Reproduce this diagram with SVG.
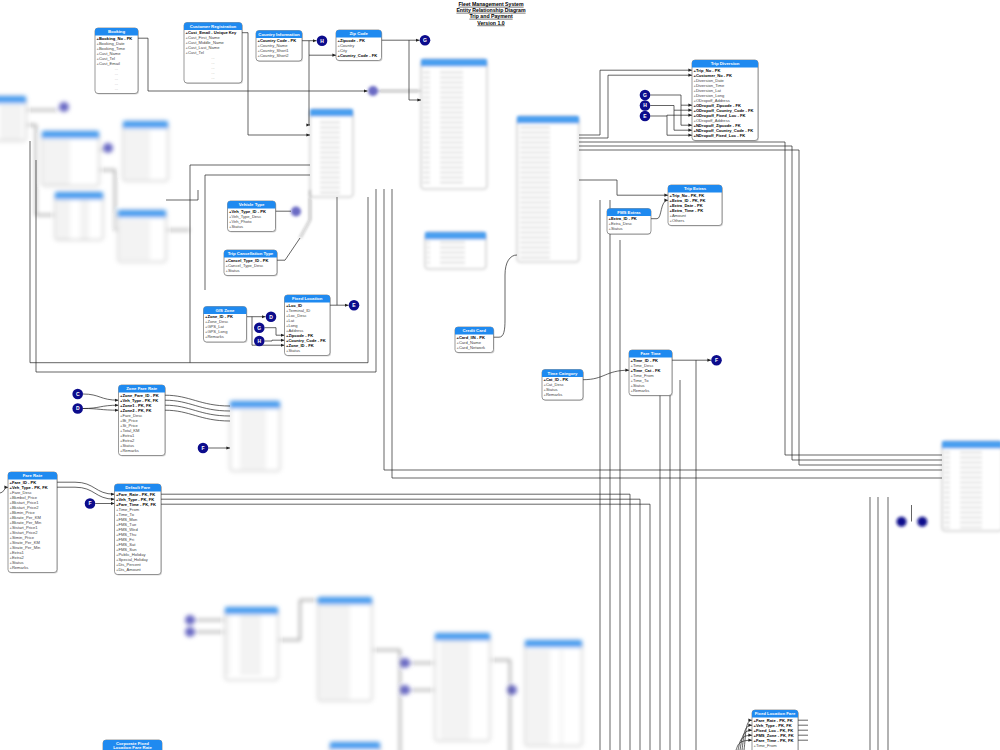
<svg xmlns="http://www.w3.org/2000/svg" width="1000" height="750" viewBox="0 0 1000 750">
<defs>
<style>
.bx{fill:#fff;stroke:#555;stroke-width:.6}
.bxb{fill:#fff;stroke:#999;stroke-width:.8}
.sh{fill:#000;opacity:.15}
.hd{fill:#1f8af0}
.hdb{fill:#4a9ff0}
.ht{font-family:"Liberation Sans",Arial,sans-serif;font-size:4.3px;font-weight:bold;fill:#fff;text-anchor:middle}
.r{font-family:"Liberation Sans",Arial,sans-serif;font-size:4.1px;fill:#444}
.b{font-weight:bold;fill:#000}
.dt{font-family:"Liberation Sans",Arial,sans-serif;font-size:4.1px;fill:#777;text-anchor:middle}
.ln{fill:none;stroke:#222;stroke-width:.7}
.ar{marker-end:url(#a)}
.cc{fill:#0c0c8c}
.cl{font-family:"Liberation Sans",Arial,sans-serif;font-size:5px;font-weight:bold;fill:#fff;text-anchor:middle}
.tt{font-family:"Liberation Sans",Arial,sans-serif;font-size:5.2px;font-weight:bold;fill:#000;text-anchor:middle;text-decoration:underline}
.blr{filter:url(#bl)}
.blr2{filter:url(#bl2)}
.bc{fill:#6a6ac4}
</style>
<marker id="a" markerWidth="4" markerHeight="4" refX="3.6" refY="2" orient="auto" markerUnits="userSpaceOnUse"><path d="M0,0.4 L3.6,2 L0,3.6z" fill="#222"/></marker>
<filter id="bl" x="-30%" y="-30%" width="160%" height="160%"><feGaussianBlur stdDeviation="2.3"/></filter>
<filter id="bl2" x="-30%" y="-30%" width="160%" height="160%"><feGaussianBlur stdDeviation="1.4"/></filter>
<pattern id="rows" width="40" height="5" patternUnits="userSpaceOnUse"><rect x="0" y="1.8" width="30" height="1.4" fill="#cfcfcf"/></pattern>
</defs>
<rect width="1000" height="750" fill="#fff"/>

<g id="title">
<text class="tt" x="491" y="5.8">Fleet Management System</text>
<text class="tt" x="491" y="11.8">Entity Relationship Diagram</text>
<text class="tt" x="491" y="17.8">Trip and Payment</text>
<text class="tt" x="491" y="24.6">Version 1.0</text>
</g>

<!-- blurred tables -->
<g id="blurred" class="blr">
<g><rect class="bxb" x="-10" y="96" width="36" height="45" rx="3"/><rect class="hdb" x="-10" y="96" width="36" height="7.5"/><rect x="-8" y="105" width="30" height="34" fill="url(#rows)"/></g>
<g><rect class="bxb" x="42" y="131" width="57" height="55" rx="3"/><rect class="hdb" x="42" y="131" width="57" height="7.5"/><rect x="44" y="140" width="36" height="44" fill="url(#rows)"/></g>
<g><rect class="bxb" x="123" y="121" width="45" height="60" rx="3"/><rect class="hdb" x="123" y="121" width="45" height="7.5"/><rect x="125" y="130" width="30" height="48" fill="url(#rows)"/></g>
<g><rect class="bxb" x="55" y="192" width="48" height="48" rx="3"/><rect class="hdb" x="55" y="192" width="48" height="7.5"/><rect x="57" y="201" width="32" height="37" fill="url(#rows)"/></g>
<g><rect class="bxb" x="118" y="210" width="48" height="52" rx="3"/><rect class="hdb" x="118" y="210" width="48" height="7.5"/><rect x="120" y="219" width="32" height="40" fill="url(#rows)"/></g>
<g><rect class="bxb" x="230" y="401" width="50" height="70" rx="3"/><rect class="hdb" x="230" y="401" width="50" height="7.5"/><rect x="232" y="410" width="34" height="58" fill="url(#rows)"/></g>
<g><rect class="bxb" x="225" y="607" width="53" height="73" rx="3"/><rect class="hdb" x="225" y="607" width="53" height="7.5"/><rect x="227" y="616" width="34" height="60" fill="url(#rows)"/></g>
<g><rect class="bxb" x="318" y="597" width="54" height="104" rx="3"/><rect class="hdb" x="318" y="597" width="54" height="7.5"/><rect x="320" y="606" width="34" height="92" fill="url(#rows)"/></g>
<g><rect class="bxb" x="435" y="633" width="55" height="108" rx="3"/><rect class="hdb" x="435" y="633" width="55" height="7.5"/><rect x="437" y="642" width="34" height="96" fill="url(#rows)"/></g>
<g><rect class="bxb" x="525" y="640" width="57" height="106" rx="3"/><rect class="hdb" x="525" y="640" width="57" height="7.5"/><rect x="527" y="649" width="36" height="94" fill="url(#rows)"/></g>
<g><rect class="bxb" x="330" y="742" width="50" height="20" rx="3"/><rect class="hdb" x="330" y="742" width="50" height="7.5"/></g>
<circle class="bc" cx="64" cy="107" r="5"/>
<circle class="bc" cx="108" cy="148" r="5"/>
<circle class="bc" cx="190" cy="620" r="5"/>
<circle class="bc" cx="190" cy="632" r="5"/>
<circle class="bc" cx="405" cy="663" r="5"/>
<circle class="bc" cx="405" cy="690" r="5"/>
<circle class="bc" cx="512" cy="690" r="5"/>
<path class="ln" d="M26,110 H58 M99,150 H103 M26,125 H36 V215 H55 M99,170 H115 V230 H118 M166,230 H190 M195,620 H225 M195,632 H225 M410,663 H435 M410,690 H435 M372,650 H400 V760 M490,660 H510 V760 M278,640 H300 V600 H318"/>
</g>
<g id="blurred2" class="blr2">
<g><rect class="bxb" x="310" y="109" width="43" height="88" rx="3"/><rect class="hdb" x="310" y="109" width="43" height="7.5"/><rect x="312" y="118" width="28" height="76" fill="url(#rows)"/></g>
<g><rect class="bxb" x="421" y="59" width="66" height="130" rx="3"/><rect class="hdb" x="421" y="59" width="66" height="7.5"/><rect x="423" y="68" width="40" height="118" fill="url(#rows)"/></g>
<g><rect class="bxb" x="517" y="116" width="62" height="146" rx="3"/><rect class="hdb" x="517" y="116" width="62" height="7.5"/><rect x="519" y="125" width="38" height="134" fill="url(#rows)"/></g>
<g><rect class="bxb" x="425" y="232" width="61" height="37" rx="3"/><rect class="hdb" x="425" y="232" width="61" height="7.5"/><rect x="427" y="241" width="38" height="26" fill="url(#rows)"/></g>
<g><rect class="bxb" x="942" y="441" width="60" height="90" rx="3"/><rect class="hdb" x="942" y="441" width="60" height="7.5"/><rect x="944" y="450" width="38" height="78" fill="url(#rows)"/></g>
<circle class="bc" cx="373" cy="91" r="5"/>
<circle class="bc" cx="296" cy="211.5" r="5"/>
<path class="ln" d="M300,238 L310,220 V190 M378,91 H421"/>
</g>

<!-- connectors -->
<g id="connectors">
<path class="ln ar" d="M138,38.2 H148 V91 H367.5"/>
<path class="ln ar" d="M242,32.7 H248 V135 H310"/>
<path class="ln ar" d="M302,40.7 H316.5"/>
<path class="ln ar" d="M309,40.7 V55.2 H336"/>
<path class="ln ar" d="M309,55.2 V125 H310"/>
<path class="ln ar" d="M381.5,40.2 H419.5"/>
<path class="ln ar" d="M409,40.2 V100 H421"/>
<path class="ln ar" d="M579,135 H600 V70.2 H692"/>
<path class="ln ar" d="M579,138 H608 V75.2 H692"/>
<path class="ln ar" d="M650.3,95 H681 V105.2 H692"/>
<path class="ln ar" d="M681,105.2 V125.2 H692"/>
<path class="ln ar" d="M650.3,105.5 H674 V110.2 H692"/>
<path class="ln ar" d="M674,110.2 V130.2 H692"/>
<path class="ln ar" d="M650.3,116 H667 V115.2 H692"/>
<path class="ln ar" d="M667,116 V135.2 H692"/>
<path class="ln" d="M579,142 H785 V455 H942"/>
<path class="ln" d="M579,146 H792 V460 H942"/>
<path class="ln" d="M579,150 H799 V465 H942"/>
<path class="ln ar" d="M579,180 H617 V195.2 H668"/>
<path class="ln ar" d="M651,218.7 H657 C662,218.7 660,200.2 668,200.2"/>
<path class="ln" d="M275.5,211.2 H291"/>
<path class="ln" d="M277,260.2 H285 L300,238"/>
<path class="ln ar" d="M247,316.7 H265.5"/>
<path class="ln ar" d="M252,316.7 V345.2 H284.5"/>
<path class="ln ar" d="M264.6,327.7 H276 V335.2 H284.5"/>
<path class="ln ar" d="M264.6,341 H272 V340.2 H284.5"/>
<path class="ln ar" d="M330,305.2 H348.5"/>
<path class="ln" d="M337,305.2 V197"/>
<path class="ln" d="M368,197 V362.7 H30 V141"/>
<path class="ln" d="M376,189 V372 H36 V160"/>
<path class="ln" d="M190,165 H310 M190,165 V362.7 M205,175 H310 M205,175 V290"/>
<path class="ln" d="M198,190 V200 H166"/>
<path class="ln" d="M493.5,337.2 H499 C504,337.2 505,330 505,320 V275 C505,262 510,255 517,255"/>
<path class="ln ar" d="M583,379.7 C605,379.7 605,370.2 629,370.2"/>
<path class="ln ar" d="M672,360.2 H711"/>
<path class="ln" d="M696,360.2 V750"/>
<path class="ln" d="M384,189 V470 H942 M392,189 V478 H942"/>
<path class="ln ar" d="M83,394 C100,394 100,400.2 118.5,400.2"/>
<path class="ln ar" d="M83,408.5 C100,408.5 100,405.2 118.5,405.2"/>
<path class="ln ar" d="M83,408.5 C100,408.5 100,410.2 118.5,410.2"/>
<path class="ln" d="M165,395.2 C190,395.2 200,406 230,406 M165,400.2 C190,400.2 200,411 230,411 M165,405.2 C190,405.2 200,416 230,416 M165,410.2 C190,410.2 200,421 230,421"/>
<path class="ln ar" d="M208.3,448 H230"/>
<path class="ln ar" d="M0,493 C4,493 4,487.2 8,487.2"/>
<path class="ln ar" d="M57,482.2 H75 C95,482.2 95,494.2 114.5,494.2"/>
<path class="ln ar" d="M57,487.2 H75 C95,487.2 95,499.2 114.5,499.2"/>
<path class="ln ar" d="M95.3,503.5 H114.5"/>
<path class="ln" d="M161,494.2 H630 V750 M161,499.2 H640 V750 M161,504.2 H650 V750"/>
<path class="ln" d="M600,200 V750 M610,200 V750 M620,240 V750 M660,380 V750 M670,380 V750 M680,380 V750"/>
<path class="ln" d="M870,497 V750 M878,497 V750 M888,497 V750 M911.5,505 V521.5"/>
<path class="ln ar" d="M744,750 C746,735 745,720.2 752,720.2"/>
<path class="ln ar" d="M742,750 C744,737 743,725.2 752,725.2"/>
<path class="ln ar" d="M740,750 C742,740 741,730.2 752,730.2"/>
<path class="ln ar" d="M738,750 C740,743 739,735.2 752,735.2"/>
<path class="ln ar" d="M736,750 C738,746 737,740.2 752,740.2"/>
<path class="ln" d="M798,720.2 H808 M798,725.2 H808 M798,730.2 H808 M798,735.2 H808 M798,740.2 H808"/>
</g>

<!-- circles -->
<g id="circ-H1"><circle class="cc" cx="322" cy="40.7" r="5.3"/><text class="cl" x="322" y="42.5">H</text></g>
<g id="circ-G1"><circle class="cc" cx="425" cy="40.2" r="5.3"/><text class="cl" x="425" y="42">G</text></g>
<g id="circ-G2"><circle class="cc" cx="645" cy="95" r="5.3"/><text class="cl" x="645" y="96.8">G</text></g>
<g id="circ-H2"><circle class="cc" cx="645" cy="105.5" r="5.3"/><text class="cl" x="645" y="107.3">H</text></g>
<g id="circ-E1"><circle class="cc" cx="645" cy="116" r="5.3"/><text class="cl" x="645" y="117.8">E</text></g>
<g id="circ-D1"><circle class="cc" cx="271" cy="316.7" r="5.3"/><text class="cl" x="271" y="318.5">D</text></g>
<g id="circ-G3"><circle class="cc" cx="259.3" cy="327.7" r="5.3"/><text class="cl" x="259.3" y="329.5">G</text></g>
<g id="circ-H3"><circle class="cc" cx="259.3" cy="341" r="5.3"/><text class="cl" x="259.3" y="342.8">H</text></g>
<g id="circ-E2"><circle class="cc" cx="354" cy="305.2" r="5.3"/><text class="cl" x="354" y="307">E</text></g>
<g id="circ-F1"><circle class="cc" cx="716.5" cy="360.2" r="5.3"/><text class="cl" x="716.5" y="362">F</text></g>
<g id="circ-C1"><circle class="cc" cx="77.7" cy="394" r="5.3"/><text class="cl" x="77.7" y="395.8">C</text></g>
<g id="circ-D2"><circle class="cc" cx="77.7" cy="408.5" r="5.3"/><text class="cl" x="77.7" y="410.3">D</text></g>
<g id="circ-F2"><circle class="cc" cx="203" cy="448" r="5.3"/><text class="cl" x="203" y="449.8">F</text></g>
<g id="circ-F3"><circle class="cc" cx="90" cy="503.5" r="5.3"/><text class="cl" x="90" y="505.3">F</text></g>
<g id="circ-B" class="blr2"><circle class="cc" cx="901.5" cy="521.7" r="5"/><circle class="cc" cx="922.3" cy="521.7" r="5"/></g>

<!-- tables -->
<g id="booking">
<rect class="sh" x="96" y="29" width="43" height="65.5" rx="3"/>
<rect class="bx" x="95" y="28" width="43" height="65.5" rx="3"/>
<path class="hd" d="M95,35.5 V31 Q95,28 98,28 H135 Q138,28 138,31 V35.5 Z"/>
<text class="ht" x="116.5" y="33.4">Booking</text>
<text class="r"><tspan class="b" x="96.5" y="39.6">+Booking_No - PK</tspan><tspan x="96.5" dy="5">+Booking_Date</tspan><tspan x="96.5" dy="5">+Booking_Time</tspan><tspan x="96.5" dy="5">+Cust_Name</tspan><tspan x="96.5" dy="5">+Cust_Tel</tspan><tspan x="96.5" dy="5">+Cust_Email</tspan></text>
<text class="dt"><tspan x="116.5" y="69.6">...</tspan><tspan x="116.5" dy="5">...</tspan><tspan x="116.5" dy="5">...</tspan><tspan x="116.5" dy="5">...</tspan><tspan x="116.5" dy="5">...</tspan></text>
</g>

<g id="customer-registration">
<rect class="sh" x="185" y="23.5" width="58" height="60.5" rx="3"/>
<rect class="bx" x="184" y="22.5" width="58" height="60.5" rx="3"/>
<path class="hd" d="M184,30 V25.5 Q184,22.5 187,22.5 H239 Q242,22.5 242,25.5 V30 Z"/>
<text class="ht" x="213" y="27.9">Customer Registration</text>
<text class="r"><tspan class="b" x="185.5" y="34.1">+Cust_Email - Unique Key</tspan><tspan x="185.5" dy="5">+Cust_First_Name</tspan><tspan x="185.5" dy="5">+Cust_Middle_Name</tspan><tspan x="185.5" dy="5">+Cust_Last_Name</tspan><tspan x="185.5" dy="5">+Cust_Tel</tspan></text>
<text class="dt"><tspan x="213" y="59.1">...</tspan><tspan x="213" dy="5">...</tspan><tspan x="213" dy="5">...</tspan><tspan x="213" dy="5">...</tspan><tspan x="213" dy="5">...</tspan></text>
</g>

<g id="country-information">
<rect class="sh" x="257" y="31.5" width="46" height="30.5" rx="3"/>
<rect class="bx" x="256" y="30.5" width="46" height="30.5" rx="3"/>
<path class="hd" d="M256,38 V33.5 Q256,30.5 259,30.5 H299 Q302,30.5 302,33.5 V38 Z"/>
<text class="ht" x="279" y="35.9">Country Information</text>
<text class="r"><tspan class="b" x="257.5" y="42.1">+Country Code - PK</tspan><tspan x="257.5" dy="5">+Country_Name</tspan><tspan x="257.5" dy="5">+Country_Short1</tspan><tspan x="257.5" dy="5">+Country_Short2</tspan></text>
</g>

<g id="zip-code">
<rect class="sh" x="337" y="31" width="45.5" height="30.5" rx="3"/>
<rect class="bx" x="336" y="30" width="45.5" height="30.5" rx="3"/>
<path class="hd" d="M336,37.5 V33 Q336,30 339,30 H378.5 Q381.5,30 381.5,33 V37.5 Z"/>
<text class="ht" x="358.7" y="35.4">Zip Code</text>
<text class="r"><tspan class="b" x="337.5" y="41.6">+Zipcode - PK</tspan><tspan x="337.5" dy="5">+Country</tspan><tspan x="337.5" dy="5">+City</tspan><tspan class="b" x="337.5" dy="5">+Country_Code - FK</tspan></text>
</g>

<g id="trip-diversion">
<rect class="sh" x="693" y="61" width="66" height="80.5" rx="3"/>
<rect class="bx" x="692" y="60" width="66" height="80.5" rx="3"/>
<path class="hd" d="M692,67.5 V63 Q692,60 695,60 H755 Q758,60 758,63 V67.5 Z"/>
<text class="ht" x="725" y="65.4">Trip Diversion</text>
<text class="r"><tspan class="b" x="693.5" y="71.6">+Trip_No - PK</tspan><tspan class="b" x="693.5" dy="5">+Customer_No - PK</tspan><tspan x="693.5" dy="5">+Diversion_Date</tspan><tspan x="693.5" dy="5">+Diversion_Time</tspan><tspan x="693.5" dy="5">+Diversion_Lat</tspan><tspan x="693.5" dy="5">+Diversion_Long</tspan><tspan x="693.5" dy="5">+ODropoff_Address</tspan><tspan class="b" x="693.5" dy="5">+ODropoff_Zipcode - FK</tspan><tspan class="b" x="693.5" dy="5">+ODropoff_Country_Code - FK</tspan><tspan class="b" x="693.5" dy="5">+ODropoff_Fixed_Loc - FK</tspan><tspan x="693.5" dy="5">+ODropoff_Address</tspan><tspan class="b" x="693.5" dy="5">+NDropoff_Zipcode - FK</tspan><tspan class="b" x="693.5" dy="5">+NDropoff_Country_Code - FK</tspan><tspan class="b" x="693.5" dy="5">+NDropoff_Fixed_Loc - FK</tspan></text>
</g>

<g id="trip-extras">
<rect class="sh" x="669" y="186" width="54" height="40.5" rx="3"/>
<rect class="bx" x="668" y="185" width="54" height="40.5" rx="3"/>
<path class="hd" d="M668,192.5 V188 Q668,185 671,185 H719 Q722,185 722,188 V192.5 Z"/>
<text class="ht" x="695" y="190.4">Trip Extras</text>
<text class="r"><tspan class="b" x="669.5" y="196.6">+Trip_No - PK, FK</tspan><tspan class="b" x="669.5" dy="5">+Extra_ID - PK, FK</tspan><tspan class="b" x="669.5" dy="5">+Extra_Date - PK</tspan><tspan class="b" x="669.5" dy="5">+Extra_Time - PK</tspan><tspan x="669.5" dy="5">+Amount</tspan><tspan x="669.5" dy="5">+Others</tspan></text>
</g>

<g id="fms-extras">
<rect class="sh" x="608" y="209.5" width="43" height="25.5" rx="3"/>
<rect class="bx" x="607" y="208.5" width="44" height="25.5" rx="3"/>
<path class="hd" d="M607,216 V211.5 Q607,208.5 610,208.5 H648 Q651,208.5 651,211.5 V216 Z"/>
<text class="ht" x="629" y="213.9">FMS Extras</text>
<text class="r"><tspan class="b" x="608.5" y="220.1">+Extra_ID - PK</tspan><tspan x="608.5" dy="5">+Extra_Desc</tspan><tspan x="608.5" dy="5">+Status</tspan></text>
</g>

<g id="vehicle-type">
<rect class="sh" x="228.5" y="202" width="48" height="30.5" rx="3"/>
<rect class="bx" x="227.5" y="201" width="48" height="30.5" rx="3"/>
<path class="hd" d="M227.5,208.5 V204 Q227.5,201 230.5,201 H272.5 Q275.5,201 275.5,204 V208.5 Z"/>
<text class="ht" x="251.5" y="206.4">Vehicle Type</text>
<text class="r"><tspan class="b" x="229" y="212.6">+Veh_Type_ID - PK</tspan><tspan x="229" dy="5">+Veh_Type_Desc</tspan><tspan x="229" dy="5">+Veh_Photo</tspan><tspan x="229" dy="5">+Status</tspan></text>
</g>

<g id="trip-cancellation-type">
<rect class="sh" x="225" y="251" width="53" height="25.5" rx="3"/>
<rect class="bx" x="224" y="250" width="53" height="25.5" rx="3"/>
<path class="hd" d="M224,257.5 V253 Q224,250 227,250 H274 Q277,250 277,253 V257.5 Z"/>
<text class="ht" x="250.5" y="255.4">Trip Cancellation Type</text>
<text class="r"><tspan class="b" x="225.5" y="261.6">+Cancel_Type_ID - PK</tspan><tspan x="225.5" dy="5">+Cancel_Type_Desc</tspan><tspan x="225.5" dy="5">+Status</tspan></text>
</g>

<g id="gis-zone">
<rect class="sh" x="204.5" y="307.5" width="43" height="35.5" rx="3"/>
<rect class="bx" x="203.5" y="306.5" width="43" height="35.5" rx="3"/>
<path class="hd" d="M203.5,314 V309.5 Q203.5,306.5 206.5,306.5 H243.5 Q246.5,306.5 246.5,309.5 V314 Z"/>
<text class="ht" x="225" y="311.9">GIS Zone</text>
<text class="r"><tspan class="b" x="205" y="318.1">+Zone_ID - PK</tspan><tspan x="205" dy="5">+Zone_Desc</tspan><tspan x="205" dy="5">+GPS_Lat</tspan><tspan x="205" dy="5">+GPS_Long</tspan><tspan x="205" dy="5">+Remarks</tspan></text>
</g>

<g id="fixed-location">
<rect class="sh" x="285.5" y="296" width="45.5" height="60.5" rx="3"/>
<rect class="bx" x="284.5" y="295" width="45.5" height="60.5" rx="3"/>
<path class="hd" d="M284.5,302.5 V298 Q284.5,295 287.5,295 H327 Q330,295 330,298 V302.5 Z"/>
<text class="ht" x="307.2" y="300.4">Fixed Location</text>
<text class="r"><tspan class="b" x="286" y="306.6">+Loc_ID</tspan><tspan x="286" dy="5">+Terminal_ID</tspan><tspan x="286" dy="5">+Loc_Desc</tspan><tspan x="286" dy="5">+Lat</tspan><tspan x="286" dy="5">+Long</tspan><tspan x="286" dy="5">+Address</tspan><tspan class="b" x="286" dy="5">+Zipcode - FK</tspan><tspan class="b" x="286" dy="5">+Country_Code - FK</tspan><tspan class="b" x="286" dy="5">+Zone_ID - FK</tspan><tspan x="286" dy="5">+Status</tspan></text>
</g>

<g id="credit-card">
<rect class="sh" x="456" y="328" width="38.5" height="25.5" rx="3"/>
<rect class="bx" x="455" y="327" width="38.5" height="25.5" rx="3"/>
<path class="hd" d="M455,334.5 V330 Q455,327 458,327 H490.5 Q493.5,327 493.5,330 V334.5 Z"/>
<text class="ht" x="474.2" y="332.4">Credit Card</text>
<text class="r"><tspan class="b" x="456.5" y="338.6">+Card_IIN - PK</tspan><tspan x="456.5" dy="5">+Card_Name</tspan><tspan x="456.5" dy="5">+Card_Network</tspan></text>
</g>

<g id="time-category">
<rect class="sh" x="543" y="370.5" width="41" height="30.5" rx="3"/>
<rect class="bx" x="542" y="369.5" width="41" height="30.5" rx="3"/>
<path class="hd" d="M542,377 V372.5 Q542,369.5 545,369.5 H580 Q583,369.5 583,372.5 V377 Z"/>
<text class="ht" x="562.5" y="374.9">Time Category</text>
<text class="r"><tspan class="b" x="543.5" y="381.1">+Cat_ID - PK</tspan><tspan x="543.5" dy="5">+Cat_Desc</tspan><tspan x="543.5" dy="5">+Status</tspan><tspan x="543.5" dy="5">+Remarks</tspan></text>
</g>

<g id="fare-time">
<rect class="sh" x="630" y="351" width="43" height="45.5" rx="3"/>
<rect class="bx" x="629" y="350" width="43" height="45.5" rx="3"/>
<path class="hd" d="M629,357.5 V353 Q629,350 632,350 H669 Q672,350 672,353 V357.5 Z"/>
<text class="ht" x="650.5" y="355.4">Fare Time</text>
<text class="r"><tspan class="b" x="630.5" y="361.6">+Time_ID - PK</tspan><tspan x="630.5" dy="5">+Time_Desc</tspan><tspan class="b" x="630.5" dy="5">+Time_Cat - FK</tspan><tspan x="630.5" dy="5">+Time_From</tspan><tspan x="630.5" dy="5">+Time_To</tspan><tspan x="630.5" dy="5">+Status</tspan><tspan x="630.5" dy="5">+Remarks</tspan></text>
</g>

<g id="zone-fare-rate">
<rect class="sh" x="119.5" y="386" width="46.5" height="70.5" rx="3"/>
<rect class="bx" x="118.5" y="385" width="46.5" height="70.5" rx="3"/>
<path class="hd" d="M118.5,392.5 V388 Q118.5,385 121.5,385 H162 Q165,385 165,388 V392.5 Z"/>
<text class="ht" x="141.7" y="390.4">Zone Fare Rate</text>
<text class="r"><tspan class="b" x="120" y="396.6">+Zone_Fare_ID - PK</tspan><tspan class="b" x="120" dy="5">+Veh_Type - PK, FK</tspan><tspan class="b" x="120" dy="5">+Zone1 - PK, FK</tspan><tspan class="b" x="120" dy="5">+Zone2 - PK, FK</tspan><tspan x="120" dy="5">+Fare_Desc</tspan><tspan x="120" dy="5">+Bt_Price</tspan><tspan x="120" dy="5">+St_Price</tspan><tspan x="120" dy="5">+Total_KM</tspan><tspan x="120" dy="5">+Extra1</tspan><tspan x="120" dy="5">+Extra2</tspan><tspan x="120" dy="5">+Status</tspan><tspan x="120" dy="5">+Remarks</tspan></text>
</g>

<g id="fare-rate">
<rect class="sh" x="9" y="473" width="49" height="100.5" rx="3"/>
<rect class="bx" x="8" y="472" width="49" height="100.5" rx="3"/>
<path class="hd" d="M8,479.5 V475 Q8,472 11,472 H54 Q57,472 57,475 V479.5 Z"/>
<text class="ht" x="32.5" y="477.4">Fare Rate</text>
<text class="r"><tspan class="b" x="9.5" y="483.6">+Fare_ID - PK</tspan><tspan class="b" x="9.5" dy="5">+Veh_Type - PK, FK</tspan><tspan x="9.5" dy="5">+Fare_Desc</tspan><tspan x="9.5" dy="5">+Bkmbol_Price</tspan><tspan x="9.5" dy="5">+Bkstart_Price1</tspan><tspan x="9.5" dy="5">+Bkstart_Price2</tspan><tspan x="9.5" dy="5">+Bkmin_Price</tspan><tspan x="9.5" dy="5">+Bkrate_Per_KM</tspan><tspan x="9.5" dy="5">+Bkrate_Per_Min</tspan><tspan x="9.5" dy="5">+Ststart_Price1</tspan><tspan x="9.5" dy="5">+Ststart_Price2</tspan><tspan x="9.5" dy="5">+Stmin_Price</tspan><tspan x="9.5" dy="5">+Strate_Per_KM</tspan><tspan x="9.5" dy="5">+Strate_Per_Min</tspan><tspan x="9.5" dy="5">+Extra1</tspan><tspan x="9.5" dy="5">+Extra2</tspan><tspan x="9.5" dy="5">+Status</tspan><tspan x="9.5" dy="5">+Remarks</tspan></text>
</g>

<g id="default-fare">
<rect class="sh" x="115.5" y="485" width="46.5" height="90.5" rx="3"/>
<rect class="bx" x="114.5" y="484" width="46.5" height="90.5" rx="3"/>
<path class="hd" d="M114.5,491.5 V487 Q114.5,484 117.5,484 H158 Q161,484 161,487 V491.5 Z"/>
<text class="ht" x="137.7" y="489.4">Default Fare</text>
<text class="r"><tspan class="b" x="116" y="495.6">+Fare_Rate - PK, FK</tspan><tspan class="b" x="116" dy="5">+Veh_Type - PK, FK</tspan><tspan class="b" x="116" dy="5">+Fare_Time - PK, FK</tspan><tspan x="116" dy="5">+Time_From</tspan><tspan x="116" dy="5">+Time_To</tspan><tspan x="116" dy="5">+FMS_Mon</tspan><tspan x="116" dy="5">+FMS_Tue</tspan><tspan x="116" dy="5">+FMS_Wed</tspan><tspan x="116" dy="5">+FMS_Thu</tspan><tspan x="116" dy="5">+FMS_Fri</tspan><tspan x="116" dy="5">+FMS_Sat</tspan><tspan x="116" dy="5">+FMS_Sun</tspan><tspan x="116" dy="5">+Public_Holiday</tspan><tspan x="116" dy="5">+Special_Holiday</tspan><tspan x="116" dy="5">+Dis_Percent</tspan><tspan x="116" dy="5">+Dis_Amount</tspan></text>
</g>

<g id="fixed-location-fare">
<rect class="sh" x="753" y="711" width="46" height="60" rx="3"/>
<rect class="bx" x="752" y="710" width="46" height="60" rx="3"/>
<path class="hd" d="M752,717.5 V713 Q752,710 755,710 H795 Q798,710 798,713 V717.5 Z"/>
<text class="ht" x="775" y="715.4">Fixed Location Fare</text>
<text class="r"><tspan class="b" x="753.5" y="721.6">+Fare_Rate - PK, FK</tspan><tspan class="b" x="753.5" dy="5">+Veh_Type - PK, FK</tspan><tspan class="b" x="753.5" dy="5">+Fixed_Loc - PK, FK</tspan><tspan class="b" x="753.5" dy="5">+FMS_Zone - PK, FK</tspan><tspan class="b" x="753.5" dy="5">+Fare_Time - PK, FK</tspan><tspan x="753.5" dy="5">+Time_From</tspan></text>
</g>

<g id="corporate-fixed-location-fare-rate">
<rect class="bx" x="103" y="740" width="59" height="30" rx="3"/>
<path class="hd" d="M103,752 V743 Q103,740 106,740 H159 Q162,740 162,743 V752 Z"/>
<text class="ht"><tspan x="132.5" y="744.6">Corporate Fixed</tspan><tspan x="132.5" dy="4.8">Location Fare Rate</tspan></text>
</g>
</svg>
